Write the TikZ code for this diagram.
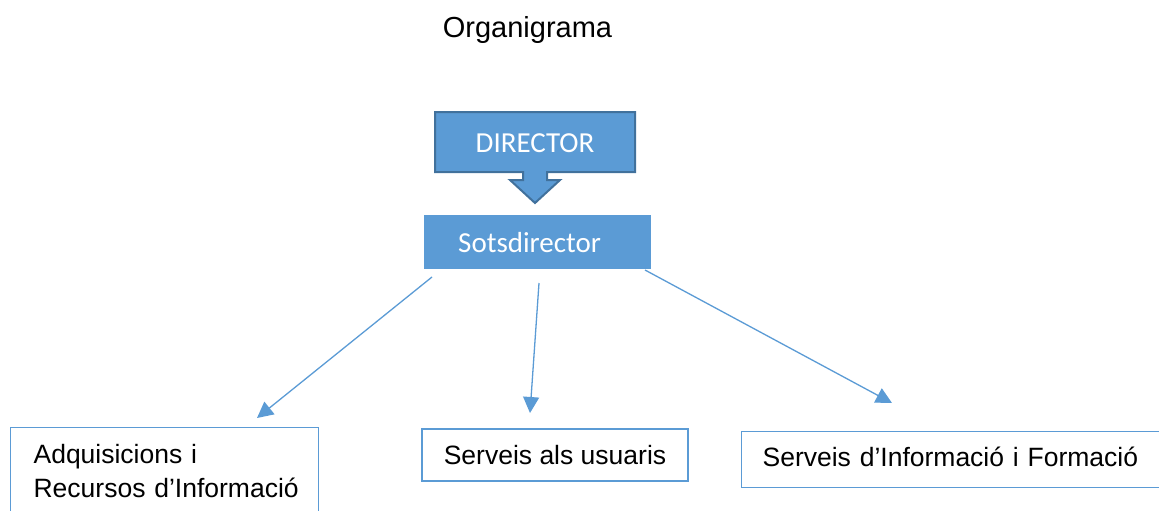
\documentclass[tikz,border=0pt]{standalone}
\usepackage{fontspec}
\setmainfont{Liberation Sans}
\newfontfamily\calib{Carlito}
\usetikzlibrary{arrows.meta}
\definecolor{accblue}{HTML}{5B9BD5}
\definecolor{darkblue}{HTML}{41719C}
\tikzset{
  fillbox/.style={fill=accblue, draw=none, text=white, font=\calib\fontsize{29}{34}\selectfont},
  unitbox/.style={draw=accblue, line width=1.2pt, fill=white, text=black, font=\fontsize{26.5}{34}\selectfont},
  link/.style={draw=accblue, line width=1.3pt, -{Triangle[length=16pt,width=16pt]}},
}
\begin{document}
\begin{tikzpicture}[x=1pt,y=-1pt]
\clip (0,0) rectangle (1159,511);
\useasboundingbox (0,0) rectangle (1159,511);
% title
\node[font=\fontsize{29}{34}\selectfont, inner sep=0] (title) at (527.5,30.5) {Organigrama};
% director callout
\draw[fill=accblue, draw=darkblue, line width=2pt, line join=miter]
  (435,112) -- (635,112) -- (635,172) -- (547,172) -- (547,180) -- (560,180)
  -- (535,203) -- (510,180) -- (523,180) -- (523,172) -- (435,172) -- cycle;
\node[text=white, font=\calib\fontsize{29}{34}\selectfont, inner sep=0] (director) at (535,143) {DIRECTOR};
% sotsdirector
\node[fillbox, anchor=north west, minimum width=227, minimum height=54,
      text width=159, inner xsep=34, inner ysep=0, align=left] (sots) at (424,215) {Sotsdirector};
% units
\node[unitbox, anchor=north west, text width=262, inner xsep=23, inner ysep=16.6, align=left] (adq) at (10,427)
  {Adquisicions i\\\mbox{Recursos d’Informació}};
\node[unitbox, minimum width=266, minimum height=52, inner sep=0] (serv) at (555,455) {Serveis als usuaris};
\node[unitbox, anchor=north west, minimum height=56, text width=388, inner xsep=21, inner ysep=0,
      text height=20, text depth=6, align=left] (form) at (741,431)
  {Serveis d’Informació i Formació};
% connectors
\coordinate (s1) at (432,277);
\coordinate (s2) at (539,283);
\coordinate (s3) at (645,270);
\coordinate (t1) at (257,418);
\coordinate (t2) at (530,413);
\coordinate (t3) at (892,403);
\draw[link] (s1) -- (t1);
\draw[link] (s2) -- (t2);
\draw[link] (s3) -- (t3);
\end{tikzpicture}
\end{document}
